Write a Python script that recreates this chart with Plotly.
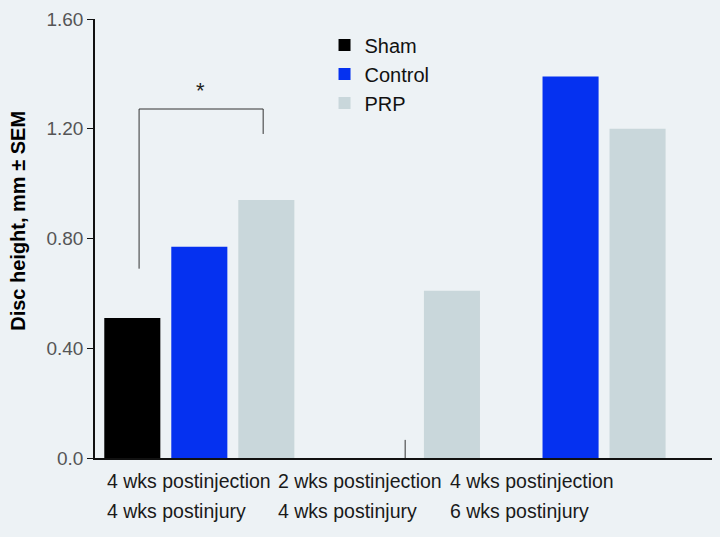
import plotly.graph_objects as go

groups = ["4 wks postinjection<br>4 wks postinjury",
          "2 wks postinjection<br>4 wks postinjury",
          "4 wks postinjection<br>6 wks postinjury"]
series_names = ["Sham", "Control", "PRP"]
sham = [0.51, None, None]
control = [0.77, None, 1.39]
prp = [0.94, 0.61, 1.20]
y_tickvals = [0.0, 0.4, 0.8, 1.2, 1.6]
y_ticktext = ["0.0", "0.40", "0.80", "1.20", "1.60"]

colors = ["#000000", "#0531F0", "#C9D7DB"]
bg = "#EDF2F5"
FONT = "Liberation Sans"

x_idx = list(range(len(groups)))
bar_w = 0.302
offsets = [-0.512, -0.151, 0.210]

fig = go.Figure()
for name, vals, col, off in zip(series_names, [sham, control, prp], colors, offsets):
    fig.add_trace(go.Bar(
        x=x_idx, y=vals, name=name, marker=dict(color=col, line=dict(width=0)),
        width=bar_w, offset=off, legendgroup=name,
    ))

# significance bracket (Sham vs PRP, first group)
line_col = "#333333"
fig.add_shape(type="line", xref="x", yref="y", x0=-0.3245, x1=-0.3245, y0=0.69, y1=1.272,
              line=dict(color=line_col, width=1))
fig.add_shape(type="line", xref="x", yref="y", x0=-0.3245, x1=0.344, y0=1.272, y1=1.272,
              line=dict(color=line_col, width=1))
fig.add_shape(type="line", xref="x", yref="y", x0=0.344, x1=0.344, y0=1.272, y1=1.181,
              line=dict(color=line_col, width=1))
fig.add_annotation(x=0.005, y=1.285, xref="x", yref="y", text="*", showarrow=False,
                   font=dict(family=FONT, size=22, color="#222"), yanchor="bottom")
# small mark in second group
fig.add_shape(type="line", xref="x", yref="y", x0=1.109, x1=1.109, y0=0, y1=0.066,
              line=dict(color=line_col, width=1))

# category labels (left aligned, two lines)
label_x = [0.017, 0.293, 0.572]
for lx, g in zip(label_x, groups):
    for li, line in enumerate(g.split("<br>")):
        fig.add_annotation(x=lx, y=0, xref="paper", yref="paper", text=line, showarrow=False,
                           xanchor="left", yanchor="top", align="left", yshift=-10 - 30 * li,
                           font=dict(family=FONT, size=19.5, color="#1a1a1a"))

# y-axis title
fig.add_annotation(x=-0.125, y=0.54, xref="paper", yref="paper", text="<b>Disc height, mm ± SEM</b>",
                   showarrow=False, textangle=-90, xanchor="center", yanchor="middle",
                   font=dict(family=FONT, size=20, color="#000000"))

fig.update_layout(
    width=720, height=537,
    margin=dict(l=95, r=8, t=19, b=79),
    paper_bgcolor=bg, plot_bgcolor=bg,
    barmode="overlay",
    showlegend=True,
    legend=dict(x=0.372, y=0.985, xanchor="left", yanchor="top",
                font=dict(family=FONT, size=20, color="#111"),
                bgcolor="rgba(0,0,0,0)", tracegroupgap=0, itemwidth=30),
    xaxis=dict(range=[-0.562, 2.762], showticklabels=False, showgrid=False, zeroline=False,
               showline=True, linecolor="#111", linewidth=1.5, ticks="", fixedrange=True),
    yaxis=dict(range=[0, 1.6], tickvals=y_tickvals, ticktext=y_ticktext, showgrid=False,
               zeroline=False, showline=True, linecolor="#111", linewidth=1.5,
               ticks="outside", ticklen=6, tickcolor="#111",
               tickfont=dict(family=FONT, size=19, color="#555555")),
    font=dict(family=FONT),
)

fig.write_html("out.html", config={"displayModeBar": False},
               post_script="document.body.style.margin='0';document.body.style.background='#EDF2F5';")
